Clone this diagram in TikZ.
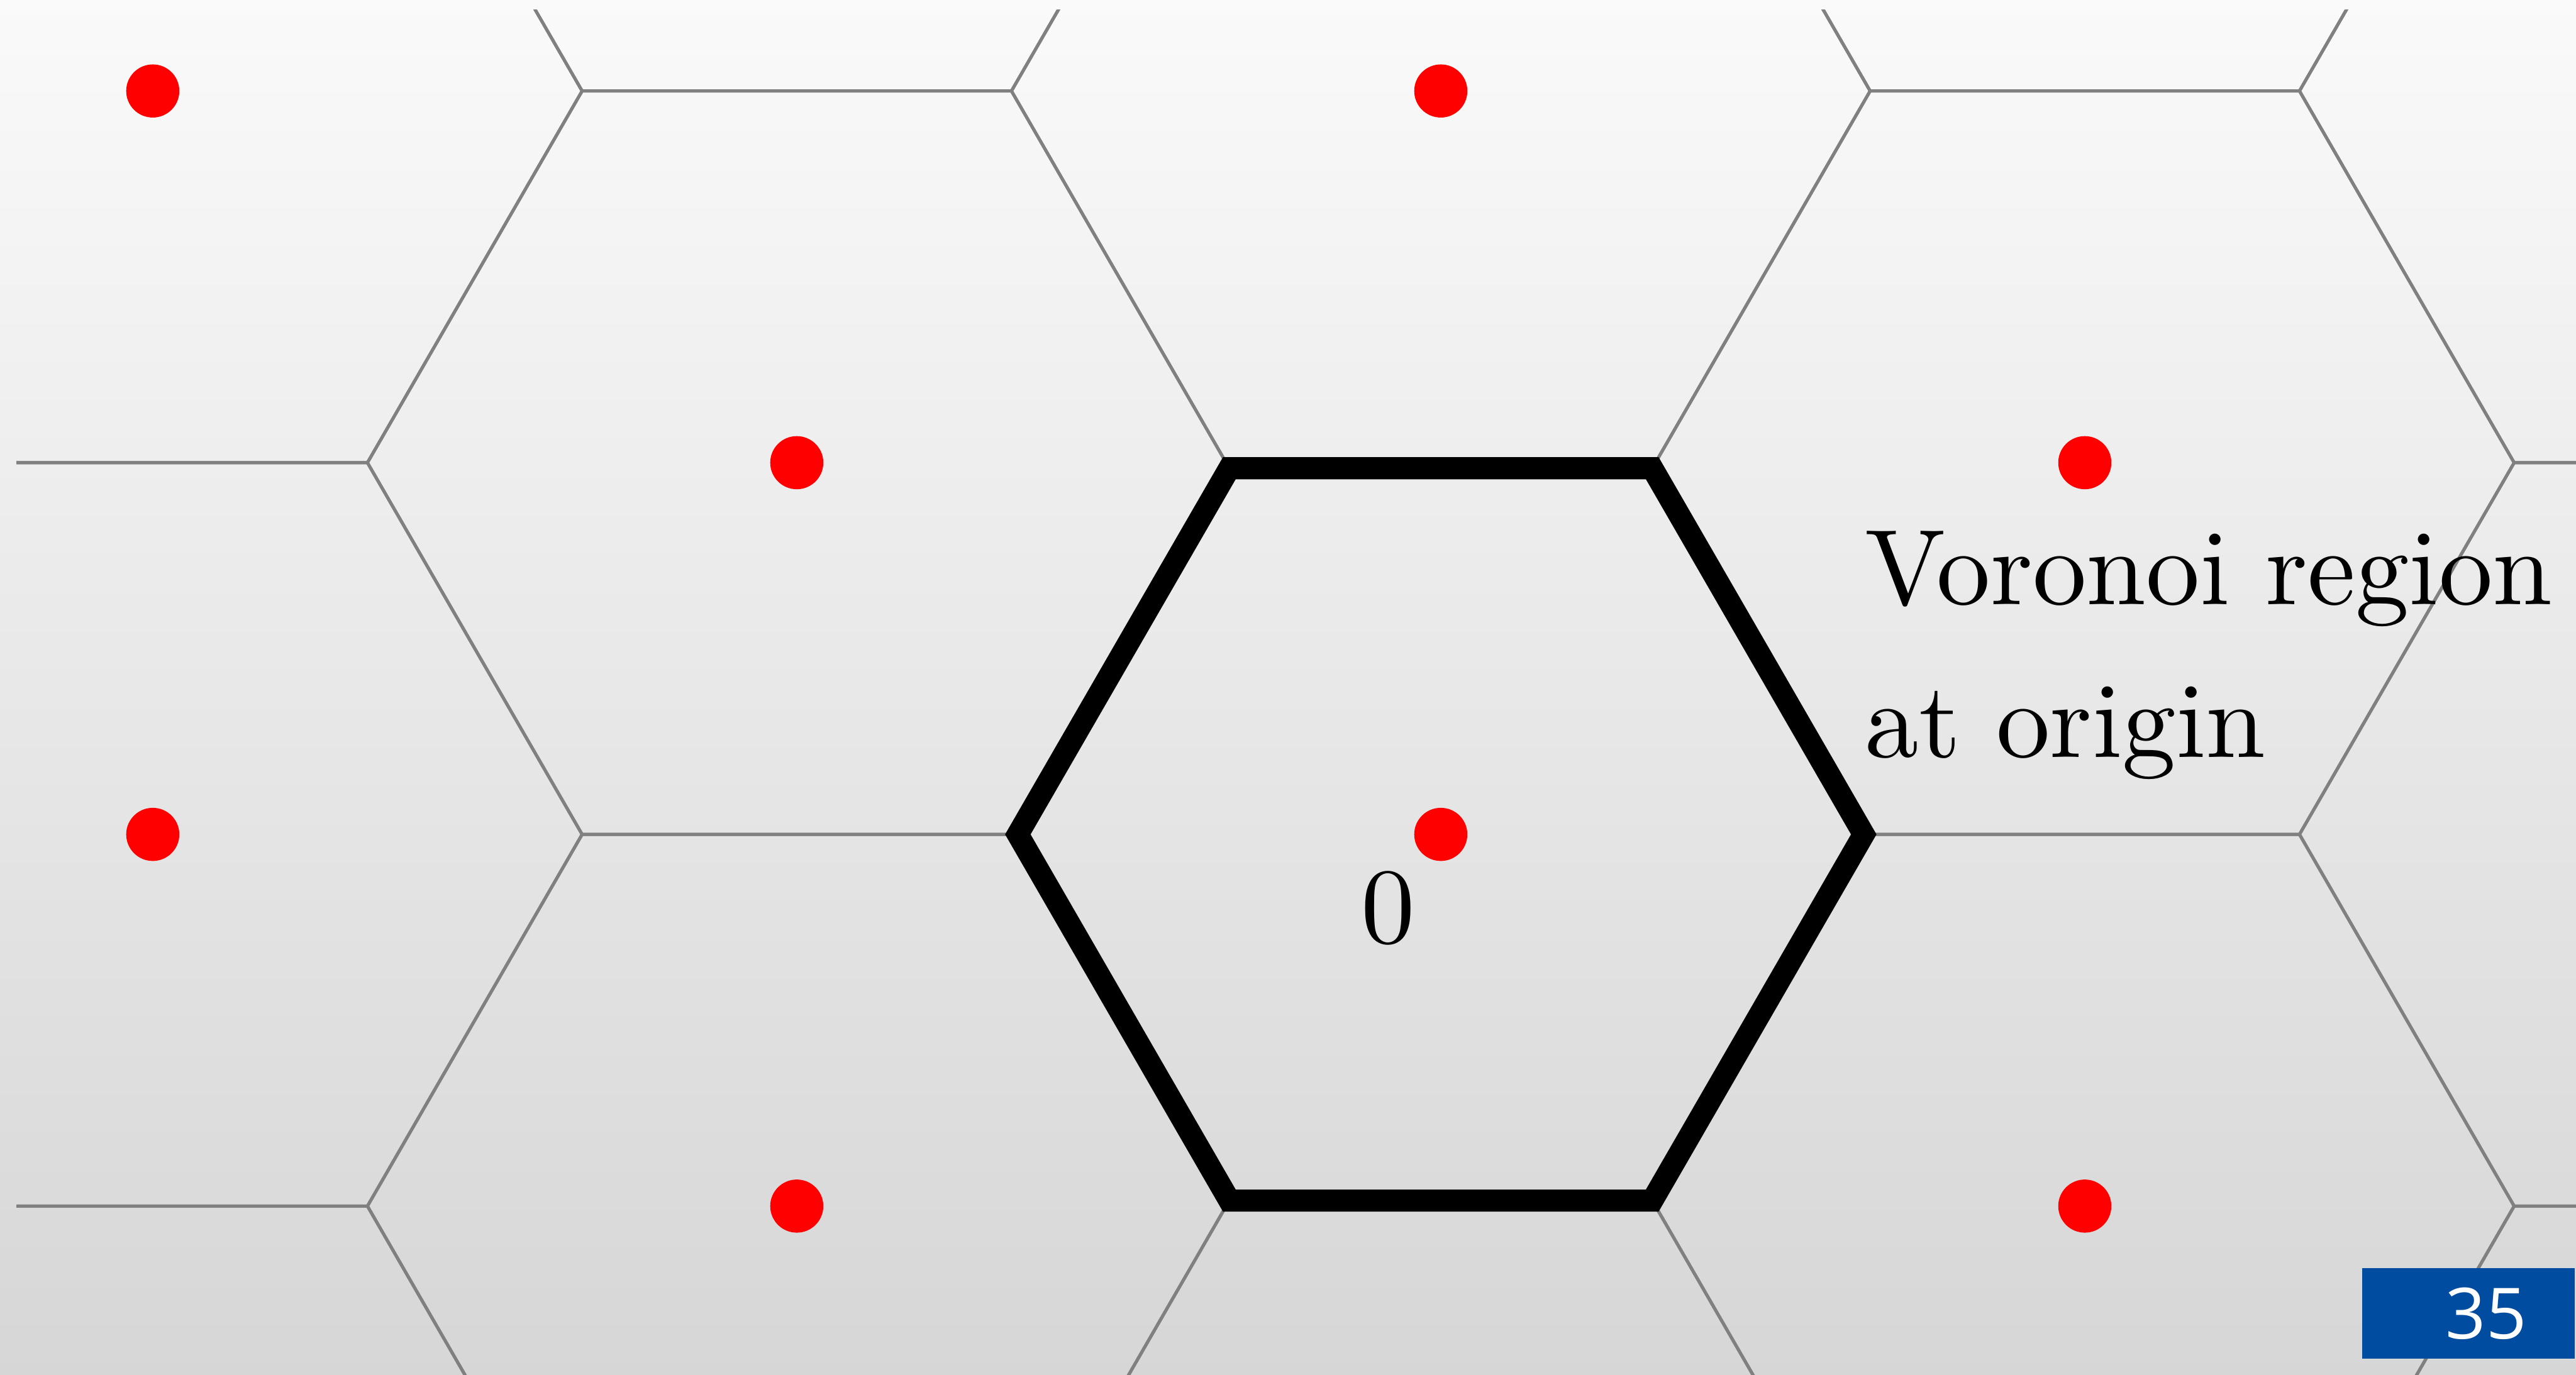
\documentclass[tikz,border=0pt]{standalone}
\usepackage{fontspec}
\newfontfamily\pagefont{Open Sans}
\pgfdeclarelayer{bglayer}
\pgfdeclarelayer{edgelayer}
\pgfdeclarelayer{nodelayer}
\pgfsetlayers{bglayer,edgelayer,nodelayer,main}
\definecolor{slideblue}{RGB}{0,76,160}
\tikzstyle{celledge}=[draw=gray, line width=0.55pt]
\tikzstyle{regionedge}=[draw=black, line width=3.9pt]
\tikzstyle{point}=[circle, fill=red, inner sep=0pt, minimum size=0.33cm]
\tikzstyle{lbltext}=[inner sep=0pt, font=\fontsize{10}{14.2}\selectfont, scale=1.9, transform shape]
\tikzstyle{pagebox}=[fill=slideblue, text=white, font=\pagefont\fontsize{12.5}{14}\selectfont, minimum height=0.564cm, inner xsep=0.3cm, text width=0.72cm, align=right]

\begin{document}
\begin{tikzpicture}
	\begin{pgfonlayer}{bglayer}
		\shade [top color=black!2, bottom color=black!16] (-8.949,-3.357) rectangle (7.051,5.184);
	\end{pgfonlayer}
	\useasboundingbox (-8.949,-3.357) rectangle (7.051,5.184);
	\begin{pgfonlayer}{edgelayer}
		\begin{scope}
			\clip (-8.847,-3.4) rectangle (7.1,5.122);
			\foreach \i in {-2,...,2}
				\foreach \j in {-1,0,1}{
					\pgfmathsetmacro{\cx}{4*\i}
					\pgfmathsetmacro{\cy}{4.6188*\j+2.3094*mod(abs(\i),2)}
					\draw [style=celledge] (\cx+2.6667,\cy) -- ++(-1.3333,2.3094) -- ++(-2.6667,0) -- ++(-1.3333,-2.3094) -- ++(1.3333,-2.3094) -- ++(2.6667,0) -- cycle;
				}
		\end{scope}
		\draw [style=regionedge] (2.627,0) -- (1.3135,2.275) -- (-1.3135,2.275) -- (-2.627,0) -- (-1.3135,-2.275) -- (1.3135,-2.275) -- cycle;
	\end{pgfonlayer}
	\begin{pgfonlayer}{nodelayer}
		\node [style=point] (0) at (0, 0) {};
		\node [style=point] (1) at (0, 4.6188) {};
		\node [style=point] (2) at (-4, 2.3094) {};
		\node [style=point] (3) at (4, 2.3094) {};
		\node [style=point] (4) at (-8, 0) {};
		\node [style=point] (5) at (-8, 4.6188) {};
		\node [style=point] (6) at (-4, -2.3094) {};
		\node [style=point] (7) at (4, -2.3094) {};
	\end{pgfonlayer}
	\node [style=lbltext, anchor=base] (origin) at (-0.327, -0.673) {$0$};
	\node [style=lbltext, anchor=base west, align=left] (region) at (2.622, 0.480) {Voronoi region\\at origin};
	\node [style=pagebox, anchor=south east] (page) at (7.051, -3.265) {35};
\end{tikzpicture}
\end{document}
